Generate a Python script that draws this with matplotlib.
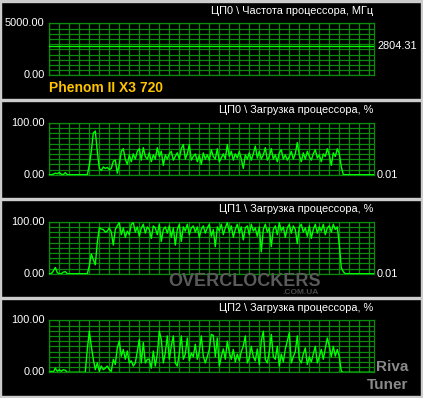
import numpy as np
import matplotlib
matplotlib.use("Agg")
import matplotlib.pyplot as plt
from matplotlib.patches import Rectangle

plt.rcParams['font.family'] = ['Liberation Sans', 'DejaVu Sans']

W, H = 423, 398

# CPU0 frequency, MHz (flat over the whole run)
freq_mhz = [2804.31, 2804.31, 2804.31, 2804.31, 2804.31]

# load, %, one sample every 2 px of the graph
cpu0_load = [0, 0, 1, 3, 2, 4, 1, 0, 4,
             0, 0, 0, 0, 0, 0, 0, 0, 0, 0, 0,
             18, 45, 80, 84, 45, 12, 8, 15, 12, 14, 10, 12, 26, 28, 3, 20, 45, 50, 30, 20,
             38, 25, 40, 30, 45, 50, 28, 52, 35, 30,
             42, 25, 38, 30, 52, 35, 45, 18, 38, 30,
             40, 45, 28, 35, 42, 30, 50, 58, 30, 40,
             58, 28, 35, 40, 25, 38, 20, 42, 30, 38,
             28, 48, 35, 30, 50, 25, 32, 40, 30, 58,
             35, 45, 28, 40, 32, 45, 30, 12, 38, 30,
             42, 28, 40, 55, 32, 45, 30, 38, 52, 28,
             35, 50, 30, 38, 25, 42, 48, 30, 38, 28,
             35, 45, 30, 40, 62, 38, 25, 42, 30, 45,
             35, 28, 40, 48, 32, 38, 25, 40, 35, 50,
             38, 18, 42, 35, 50, 40, 15,
             0, 0, 0, 0, 0, 0, 0, 0, 0, 0, 0, 0, 0, 0, 0, 0]

cpu1_load = [0, 0, 5, 12, 2, 0, 0, 3, 4,
             0, 0, 0, 0, 0, 0, 0, 0, 0, 0, 0,
             15, 38, 27, 17, 60, 88, 86, 85, 80, 82, 88, 80, 55, 85, 92, 98, 75, 88, 70, 82,
             75, 95, 98, 80, 90, 72, 88, 95, 78, 90,
             85, 68, 92, 88, 75, 95, 62, 85, 90, 78,
             92, 70, 88, 55, 85, 95, 62, 90, 82, 95,
             75, 88, 92, 80, 90, 70, 85, 92, 78, 88,
             95, 72, 85, 52, 90, 82, 95, 75, 88, 98,
             80, 92, 70, 85, 95, 78, 90, 65, 88, 92,
             75, 95, 82, 88, 72, 90, 42, 85, 95, 80,
             88, 52, 85, 92, 75, 98, 82, 90, 70, 88,
             95, 78, 92, 85, 58, 90, 95, 80, 88, 72,
             92, 68, 85, 95, 78, 90, 82, 95, 75, 88,
             92, 80, 95, 85, 90, 56, 11, 4, 0, 0,
             0, 0, 0, 0, 0, 0, 0, 0, 0, 0,
             0, 0, 0]

cpu2_load = [0, 2, 0, 8, 2, 5, 2, 5, 4,
             0, 0, 0, 0, 0, 0, 0, 0, 0, 0,
             44, 79, 50, 25, 5, 18, 2, 12, 5, 8, 12, 5, 2, 25, 15, 47, 60, 31, 44, 25,
             41, 18, 22, 12, 18, 40, 63, 18, 57, 18,
             25, 25, 8, 41, 12, 35, 79, 63, 18, 37,
             70, 25, 50, 70, 18, 12, 37, 70, 25, 35,
             66, 22, 37, 30, 54, 25, 40, 70, 31, 18,
             30, 44, 73, 71, 30, 66, 12, 30, 45, 25,
             60, 38, 25, 44, 20, 35, 22, 40, 50, 70,
             18, 28, 50, 30, 22, 45, 15, 60, 79, 25,
             18, 40, 73, 30, 25, 50, 12, 35, 20, 45,
             60, 76, 18, 30, 40, 70, 25, 18, 35, 47,
             15, 30, 20, 35, 50, 18, 30, 44, 25, 45,
             66, 50, 30, 50, 31, 44, 30, 2, 0, 0,
             0, 0, 0, 0, 0, 0, 0, 0, 0, 0,
             0, 0, 0, 0]

titles = ["ЦП0 \\ Частота процессора, МГц",
          "ЦП0 \\ Загрузка процессора, %",
          "ЦП1 \\ Загрузка процессора, %",
          "ЦП2 \\ Загрузка процессора, %"]
top_labels = ["5000.00", "100.00", "100.00", "100.00"]
bottom_labels = ["0.00", "0.00", "0.00", "0.00"]
right_labels = ["2804.31", "0.01", "0.01", None]
y_max = [5000, 100, 100, 100]
series = [freq_mhz, cpu0_load, cpu1_load, cpu2_load]

GRID = '#0a8c0a'
LINE = '#00ff00'
SEP = '#cccccc'

fig = plt.figure(figsize=(W / 100, H / 100), dpi=100)
fig.patch.set_facecolor('black')


def fx(x):
    return x / W


def fy(y):
    return 1 - y / H


# gray separators between the panels and side borders
for yc in [1.2, 100.2, 199.2, 298.2, 397.2]:
    fig.patches.append(Rectangle((0, fy(yc + 1.1)), 1, 2.2 / H,
                                 transform=fig.transFigure, color=SEP, zorder=0))
fig.patches.append(Rectangle((0, 0), 1.2 / W, 1, transform=fig.transFigure, color=SEP))
fig.patches.append(Rectangle((fx(420.8), 0), 2.2 / W, 1, transform=fig.transFigure, color=SEP))

left, gw = 49.3, 324.4
tops = [23.3, 122.7, 221.7, 320.3]
gh = 52

fs = 7.9
for i in range(4):
    t = tops[i]
    ax = fig.add_axes([fx(left), fy(t + gh), gw / W, gh / H])
    ax.set_facecolor('black')
    ax.set_xlim(0, gw)
    ax.set_ylim(0, y_max[i])
    ax.set_xticks(np.arange(0, gw, 10))
    ax.set_yticks(np.linspace(0, y_max[i], 11))
    ax.grid(True, color=GRID, lw=0.9)
    ax.tick_params(length=0, labelbottom=False, labelleft=False)
    for s in ax.spines.values():
        s.set_color(GRID)
        s.set_linewidth(0.9)
    vals = series[i]
    if i == 0:
        xs = np.linspace(0, gw, len(vals))
    else:
        xs = np.arange(len(vals)) * 2
    ax.plot(xs, vals, color=LINE, lw=1.0, clip_on=True, zorder=3)

    fig.text(fx(373.5), fy(t - 12.3), titles[i], color='white', fontsize=fs,
             ha='right', va='center')
    fig.text(fx(44.5), fy(t), top_labels[i], color='white', fontsize=fs,
             ha='right', va='center')
    fig.text(fx(44.5), fy(t + gh), bottom_labels[i], color='white', fontsize=fs,
             ha='right', va='center')
    if right_labels[i]:
        yv = t + gh - gh * vals[-1] / y_max[i]
        fig.text(fx(377), fy(yv), right_labels[i], color='white', fontsize=fs,
                 ha='left', va='center')

fig.text(fx(49), fy(87.5), "Phenom II X3 720", color='#ffc400', fontsize=10,
         fontweight='bold', ha='left', va='center')

# watermarks
fig.text(fx(245), fy(281), "OVERCLOCKERS", color='#5a5a5a', fontsize=13,
         fontweight='bold', ha='center', va='center', zorder=5)
fig.text(fx(300), fy(293), ".COM.UA", color='#4a4a4a', fontsize=6,
         fontweight='bold', ha='center', va='center', zorder=5)
fig.text(fx(392), fy(367), "Riva", color='#8a8a8a', fontsize=11,
         fontweight='bold', ha='center', va='center', zorder=5)
fig.text(fx(388), fy(385), "Tuner", color='#8a8a8a', fontsize=11,
         fontweight='bold', ha='center', va='center', zorder=5)

fig.savefig("out.png", dpi=100, facecolor='black')
